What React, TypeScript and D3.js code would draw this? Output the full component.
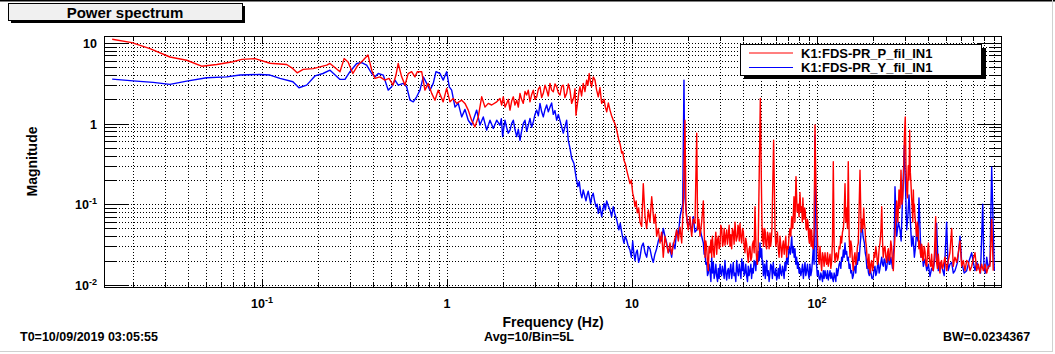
import React, { useEffect } from 'react';
import * as d3 from 'd3';

// [frequency Hz, magnitude]
// K1:FDS-PR_P_fil_IN1 (red)
const pitchSpectrum: [number, number][] = [
    [0.0155, 11.1], [0.0198, 10.1], [0.0248, 8.5], [0.0318, 6.7], [0.0392, 6.1], [0.0472, 5.15], [0.0569, 5.4], [0.0697, 5.85], [0.0777, 6.25], [0.0917, 6.4],
    [0.1105, 5.6], [0.136, 5.4], [0.147, 4.8], [0.155, 4.26], [0.167, 4.7], [0.189, 4.8], [0.224, 5.3], [0.233, 5.57], [0.264, 4.4], [0.278, 6.4],
    [0.292, 5.8], [0.310, 4.18], [0.330, 5.3], [0.352, 6.1], [0.374, 7.1], [0.392, 4.6], [0.408, 3.63], [0.434, 3.8], [0.462, 3.46], [0.486, 3.63],
    [0.511, 3.0], [0.530, 4.0], [0.545, 5.57], [0.569, 3.8], [0.593, 3.0], [0.617, 4.18], [0.644, 4.4], [0.671, 3.8], [0.691, 4.4], [0.730, 4.4],
    [0.760, 2.6], [0.792, 3.15], [0.827, 2.37], [0.861, 1.95], [0.897, 2.6], [0.954, 1.86], [0.996, 2.73], [1.038, 1.86], [1.080, 2.05], [1.128, 1.78],
    [1.201, 1.95], [1.251, 1.78], [1.303, 1.47], [1.359, 1.1], [1.417, 0.91], [1.476, 1.21], [1.540, 2.15], [1.605, 1.6], [1.672, 1.78], [1.744, 1.7],
    [1.857, 1.86], [1.934, 2.05], [1.975, 1.7], [2.015, 2.15], [2.06, 1.6], [2.102, 1.78], [2.146, 2.0], [2.191, 1.47], [2.237, 1.9], [2.283, 2.15],
    [2.33, 1.7], [2.382, 1.95], [2.43, 1.6], [2.481, 2.37], [2.53, 2.0], [2.585, 1.78], [2.64, 2.5], [2.697, 2.26], [2.75, 2.6], [2.81, 1.86],
    [2.87, 2.3], [2.928, 2.6], [2.99, 2.0], [3.054, 2.15], [3.12, 2.7], [3.182, 2.86], [3.25, 2.1], [3.316, 2.37], [3.39, 3.0], [3.458, 2.6],
    [3.53, 2.2], [3.604, 3.15], [3.68, 2.6], [3.755, 2.48], [3.835, 3.1], [3.917, 2.86], [4.0, 2.4], [4.081, 2.26], [4.17, 2.9], [4.252, 3.0],
    [4.34, 2.1], [4.435, 2.37], [4.53, 3.1], [4.622, 2.6], [4.72, 1.78], [4.857, 2.15], [4.92, 2.7], [4.98, 1.27], [5.10, 1.95], [5.17, 2.5],
    [5.234, 2.86], [5.34, 2.2], [5.45, 3.15], [5.57, 2.5], [5.687, 3.46], [5.78, 3.0], [5.87, 4.18], [5.96, 3.3], [6.05, 2.86], [6.18, 3.8],
    [6.31, 3.46], [6.44, 2.6], [6.574, 2.15], [6.71, 2.8], [6.857, 1.78], [7.06, 2.0], [7.18, 1.6], [7.30, 1.4], [7.45, 1.8], [7.605, 1.47],
    [7.76, 1.25], [7.92, 1.1], [8.09, 1.0], [8.27, 0.83], [8.49, 0.62], [8.64, 0.55], [8.795, 0.43], [8.92, 0.45], [9.05, 0.35], [9.2, 0.32],
    [9.36, 0.265], [9.55, 0.22], [9.754, 0.18], [9.92, 0.2], [10.09, 0.137], [10.23, 0.12], [10.38, 0.093], [10.53, 0.11], [10.68, 0.078], [10.86, 0.09],
    [11.05, 0.06], [11.28, 0.053], [11.51, 0.18], [11.76, 0.07], [12.0, 0.05], [12.25, 0.085], [12.5, 0.06], [12.78, 0.124], [13.15, 0.058], [13.37, 0.075],
    [13.59, 0.04], [13.88, 0.05], [14.17, 0.033], [14.46, 0.045], [14.76, 0.022], [15.08, 0.04], [15.4, 0.031], [15.72, 0.025], [16.05, 0.033], [16.38, 0.024],
    [16.72, 0.031], [17.08, 0.038], [17.44, 0.048], [17.8, 0.035], [18.18, 0.052], [18.57, 0.033], [18.94, 0.1], [19.34, 1.1], [19.58, 0.085], [19.86, 0.06],
    [20.15, 0.048], [20.58, 0.07], [21.02, 0.04], [21.46, 0.065], [21.91, 0.058], [22.38, 0.76], [22.65, 0.048], [22.98, 0.065], [23.32, 0.04], [23.8, 0.06],
    [24.3, 0.11], [24.81, 0.022], [25.05, 0.035], [25.3, 0.03], [25.57, 0.02], [25.85, 0.015], [26.1, 0.03], [26.4, 0.025], [26.7, 0.036], [26.97, 0.022],
    [27.2, 0.04], [27.5, 0.028], [27.8, 0.022], [28.1, 0.033], [28.4, 0.045], [28.7, 0.024], [29.0, 0.036], [29.28, 0.04], [29.6, 0.028], [29.9, 0.03],
    [30.2, 0.055], [30.54, 0.05], [30.9, 0.03], [31.2, 0.035], [31.5, 0.05], [31.82, 0.031], [32.15, 0.04], [32.5, 0.048], [32.8, 0.032], [33.16, 0.04],
    [33.5, 0.055], [33.86, 0.03], [34.2, 0.042], [34.58, 0.028], [34.9, 0.05], [35.3, 0.045], [35.65, 0.032], [36.04, 0.06], [36.6, 0.035], [37.1, 0.04],
    [37.4, 0.055], [37.7, 0.05], [38.0, 0.035], [38.35, 0.058], [38.75, 0.04], [39.17, 0.033], [39.6, 0.05], [40.0, 0.045], [40.4, 0.03], [40.81, 0.025],
    [41.2, 0.038], [41.66, 0.032], [42.1, 0.024], [42.52, 0.019], [43.0, 0.028], [43.43, 0.03], [43.9, 0.02], [44.35, 0.022], [44.8, 0.032], [45.3, 0.035],
    [45.75, 0.025], [46.22, 0.093], [46.9, 0.025], [47.56, 0.018], [48.1, 0.03], [48.7, 0.22], [49.4, 2.05], [50.23, 0.1], [50.6, 0.035], [50.95, 0.05],
    [51.3, 0.03], [51.7, 0.033], [52.1, 0.05], [52.55, 0.045], [53.0, 0.03], [53.45, 0.028], [54.0, 0.045], [54.55, 0.04], [55.1, 0.028], [55.7, 0.044],
    [56.15, 0.03], [56.6, 0.035], [57.1, 0.05], [57.6, 0.15], [58.3, 0.62], [59.29, 0.048], [59.9, 0.03], [60.5, 0.035], [61.1, 0.045], [61.75, 0.028],
    [62.4, 0.022], [63.1, 0.04], [63.8, 0.03], [64.44, 0.022], [65.1, 0.03], [65.8, 0.035], [66.5, 0.024], [67.14, 0.031], [67.8, 0.04], [68.5, 0.022],
    [69.2, 0.03], [69.9, 0.028], [70.6, 0.04], [71.4, 0.05], [72.2, 0.04], [73.0, 0.07], [74.0, 0.05], [75.1, 0.124], [76.0, 0.06], [77.0, 0.22],
    [78.1, 0.08], [79.2, 0.1], [80.0, 0.07], [80.9, 0.14], [81.8, 0.08], [82.7, 0.093], [83.3, 0.06], [83.9, 0.12], [84.5, 0.07], [85.05, 0.065],
    [85.8, 0.09], [86.5, 0.08], [87.2, 0.05], [87.95, 0.048], [88.7, 0.065], [89.4, 0.06], [90.1, 0.04], [90.9, 0.033], [91.5, 0.05], [92.2, 0.045],
    [92.9, 0.03], [93.6, 0.048], [94.5, 0.03], [95.4, 0.028], [96.5, 0.045], [97.54, 0.96], [98.76, 0.165], [100.2, 0.05], [100.9, 0.03], [101.6, 0.022],
    [102.7, 0.018], [103.8, 0.03], [104.9, 0.02], [106, 0.015], [107.1, 0.025], [108.2, 0.022], [109.3, 0.017], [110.5, 0.025], [111.6, 0.02], [112.8, 0.018],
    [114, 0.025], [115.1, 0.017], [116.3, 0.02], [117.6, 0.024], [118.8, 0.016], [120.1, 0.02], [121.3, 0.035], [122.5, 0.336], [123.8, 0.03], [125.1, 0.019],
    [126.4, 0.024], [127.7, 0.025], [129, 0.02], [130.3, 0.022], [131.7, 0.03], [133.1, 0.028], [134.5, 0.04], [135.9, 0.033], [137.3, 0.045], [138.8, 0.05],
    [140.2, 0.07], [141.7, 0.18], [143.2, 0.06], [144.7, 0.09], [146.1, 0.05], [147.6, 0.336], [149.2, 0.04], [150.8, 0.022], [152.3, 0.035], [153.9, 0.03],
    [155.4, 0.02], [157, 0.015], [158.7, 0.022], [160.4, 0.025], [162.1, 0.018], [163.9, 0.022], [165.5, 0.03], [167.2, 0.033], [170.8, 0.265], [173.3, 0.045],
    [175.8, 0.065], [177.3, 0.05], [178.8, 0.09], [180.3, 0.06], [181.8, 0.05], [183.3, 0.035], [184.9, 0.03], [186.4, 0.022], [188, 0.019], [189.3, 0.016],
    [190.7, 0.024], [192, 0.018], [193.4, 0.014], [195.4, 0.018], [197.4, 0.02], [199.4, 0.015], [201.5, 0.017], [203.6, 0.025], [205.7, 0.022], [207.8, 0.03],
    [210, 0.025], [212.2, 0.018], [214.5, 0.02], [216.7, 0.028], [219, 0.033], [221.4, 0.045], [223.8, 0.093], [226, 0.035], [228, 0.022], [230.5, 0.028],
    [233, 0.03], [235.5, 0.022], [238, 0.019], [240.5, 0.025], [243, 0.028], [245.5, 0.02], [248, 0.022], [250.5, 0.035], [253, 0.03], [255.7, 0.02],
    [258.5, 0.015], [261.2, 0.025], [264, 0.04], [266.8, 0.07], [269.7, 0.11], [273.6, 0.06], [277.5, 0.15], [281, 0.09], [284.5, 0.265], [287.5, 0.1],
    [290.6, 0.12], [293.6, 0.2], [296.7, 0.69], [300, 1.21], [302.7, 0.3], [305.4, 0.15], [308.4, 0.12], [311.5, 0.3], [314.2, 0.2], [317, 0.83],
    [319.5, 0.25], [322, 0.18], [324.7, 0.12], [327.5, 0.085], [329.6, 0.06], [331.8, 0.15], [333.9, 0.08], [336, 0.1], [338.5, 0.07], [341, 0.06],
    [343.5, 0.045], [346, 0.04], [349, 0.06], [352, 0.05], [355.2, 0.028], [358.4, 0.035], [361.7, 0.025], [365, 0.022], [367.5, 0.032], [370, 0.03],
    [372.7, 0.02], [375.5, 0.02], [379.6, 0.03], [383.7, 0.026], [387.8, 0.018], [392, 0.017], [396, 0.025], [400, 0.033], [404, 0.022], [408, 0.019],
    [412.2, 0.017], [416.4, 0.024], [420.7, 0.016], [425, 0.015], [431.5, 0.025], [438, 0.07], [440.5, 0.03], [443, 0.019], [447.7, 0.016], [452.4, 0.024],
    [457.2, 0.018], [462, 0.014], [466.7, 0.019], [471.4, 0.02], [476.2, 0.016], [481, 0.017], [491.4, 0.022], [502, 0.015], [512.4, 0.02], [523, 0.025],
    [534.5, 0.05], [545, 0.017], [556.7, 0.022], [568.7, 0.019], [580.7, 0.025], [592.9, 0.035], [605.5, 0.017], [618.1, 0.02], [631, 0.015], [644.1, 0.02],
    [657.5, 0.019], [671.5, 0.015], [685.7, 0.017], [700, 0.021], [714.6, 0.025], [729.8, 0.015], [745, 0.018], [760.5, 0.014], [776.3, 0.018], [792.4, 0.015],
    [809.3, 0.018], [826.5, 0.014], [843.7, 0.017], [861.2, 0.017], [879.5, 0.065], [897, 0.015],
];

// K1:FDS-PR_Y_fil_IN1 (blue)
const yawSpectrum: [number, number][] = [
    [0.0155, 3.56], [0.0201, 3.39], [0.0258, 3.24], [0.0318, 3.06], [0.0392, 3.36], [0.0502, 3.7], [0.0644, 3.8], [0.0761, 4.0], [0.0975, 4.07], [0.1105, 4.0],
    [0.1251, 3.63], [0.147, 3.3], [0.1585, 2.78], [0.1744, 3.0], [0.1934, 3.9], [0.2136, 4.18], [0.2332, 4.6], [0.2641, 3.53], [0.281, 3.53], [0.299, 4.4],
    [0.325, 5.57], [0.3458, 5.7], [0.368, 5.3], [0.3917, 4.18], [0.4081, 3.8], [0.4252, 4.18], [0.4525, 4.0], [0.481, 2.6], [0.5023, 2.86], [0.5234, 3.46],
    [0.545, 3.0], [0.58, 3.15], [0.6055, 2.86], [0.631, 1.95], [0.6575, 1.86], [0.6857, 2.15], [0.7146, 2.6], [0.7446, 3.8], [0.777, 3.15], [0.8093, 2.6],
    [0.843, 3.15], [0.872, 4.4], [0.9167, 4.18], [0.954, 3.46], [0.996, 4.4], [1.029, 2.86], [1.06, 2.6], [1.105, 1.6], [1.151, 1.78], [1.201, 1.21],
    [1.251, 1.5], [1.303, 1.1], [1.359, 0.96], [1.447, 1.47], [1.508, 0.96], [1.571, 1.21], [1.639, 0.83], [1.708, 1.1], [1.78, 0.87], [1.857, 1.1],
    [1.934, 0.95], [1.967, 1.15], [2.0, 0.69], [2.03, 0.9], [2.058, 1.1], [2.1, 0.9], [2.145, 0.76], [2.191, 0.83], [2.237, 1.0], [2.283, 1.1],
    [2.33, 0.85], [2.382, 0.69], [2.43, 0.85], [2.481, 0.62], [2.53, 0.8], [2.585, 1.0], [2.64, 1.1], [2.697, 0.8], [2.75, 0.95], [2.81, 1.16],
    [2.87, 0.9], [2.928, 1.05], [2.99, 1.3], [3.054, 1.47], [3.12, 1.25], [3.182, 1.78], [3.25, 1.4], [3.316, 1.21], [3.39, 1.5], [3.458, 1.7],
    [3.53, 1.4], [3.604, 1.6], [3.68, 1.8], [3.755, 1.3], [3.835, 1.45], [3.917, 1.1], [3.998, 1.3], [4.168, 0.91], [4.252, 0.76], [4.435, 1.1],
    [4.525, 0.62], [4.62, 0.5], [4.72, 0.37], [4.857, 0.32], [4.98, 0.22], [5.10, 0.165], [5.19, 0.19], [5.28, 0.137], [5.36, 0.12], [5.45, 0.15],
    [5.64, 0.11], [5.72, 0.13], [5.80, 0.145], [5.98, 0.102], [6.07, 0.125], [6.17, 0.137], [6.28, 0.11], [6.39, 0.093], [6.48, 0.1], [6.575, 0.077],
    [6.71, 0.095], [6.857, 0.07], [6.96, 0.085], [7.06, 0.102], [7.18, 0.085], [7.30, 0.11], [7.45, 0.095], [7.605, 0.085], [7.76, 0.07], [7.92, 0.093],
    [8.09, 0.075], [8.27, 0.064], [8.49, 0.048], [8.64, 0.058], [8.795, 0.045], [8.92, 0.038], [9.05, 0.033], [9.2, 0.04], [9.36, 0.036], [9.55, 0.03],
    [9.754, 0.027], [9.92, 0.022], [10.09, 0.035], [10.23, 0.025], [10.38, 0.02], [10.53, 0.025], [10.68, 0.027], [10.86, 0.019], [11.05, 0.022], [11.28, 0.03],
    [11.51, 0.033], [11.76, 0.025], [12.01, 0.022], [12.25, 0.03], [12.51, 0.028], [12.78, 0.022], [13.03, 0.019], [13.3, 0.024], [13.59, 0.028], [13.88, 0.035],
    [14.17, 0.04], [14.46, 0.035], [14.76, 0.05], [15.08, 0.04], [15.4, 0.033], [15.72, 0.025], [16.05, 0.028], [16.38, 0.022], [16.72, 0.033], [17.08, 0.028],
    [17.44, 0.048], [17.8, 0.04], [18.18, 0.07], [18.8, 0.1], [19.1, 3.46], [19.34, 0.12], [19.75, 0.07], [20.15, 0.055], [20.58, 0.058], [21.0, 0.045],
    [21.45, 0.07], [21.9, 0.045], [22.38, 0.048], [22.85, 0.06], [23.32, 0.05], [23.8, 0.04], [24.3, 0.033], [24.55, 0.024], [24.8, 0.025], [25.07, 0.018],
    [25.34, 0.019], [25.6, 0.013], [25.85, 0.014], [26.13, 0.018], [26.41, 0.015], [26.7, 0.011], [26.97, 0.022], [27.25, 0.014], [27.52, 0.019], [27.8, 0.012],
    [28.1, 0.014], [28.4, 0.018], [28.7, 0.0127], [29.0, 0.011], [29.3, 0.016], [29.6, 0.012], [29.9, 0.018], [30.2, 0.014], [30.5, 0.013], [30.8, 0.017],
    [31.15, 0.015], [31.5, 0.012], [31.8, 0.02], [32.15, 0.014], [32.5, 0.0115], [32.85, 0.015], [33.2, 0.016], [33.5, 0.012], [33.86, 0.015], [34.2, 0.018],
    [34.6, 0.012], [34.95, 0.015], [35.28, 0.019], [35.6, 0.013], [36.0, 0.014], [36.4, 0.011], [36.81, 0.02], [37.2, 0.015], [37.6, 0.013], [38.0, 0.018],
    [38.35, 0.015], [38.8, 0.012], [39.2, 0.021], [39.6, 0.015], [39.98, 0.019], [40.4, 0.013], [40.8, 0.014], [41.2, 0.018], [41.68, 0.0127], [42.1, 0.011],
    [42.5, 0.017], [42.95, 0.013], [43.43, 0.015], [43.9, 0.018], [44.3, 0.012], [44.8, 0.016], [45.25, 0.014], [45.7, 0.02], [46.2, 0.019], [46.7, 0.015],
    [47.2, 0.022], [47.7, 0.018], [48.2, 0.026], [48.7, 0.02], [49.18, 0.033], [49.7, 0.022], [50.23, 0.028], [50.6, 0.018], [50.95, 0.02], [51.3, 0.013],
    [51.7, 0.015], [52.1, 0.018], [52.55, 0.012], [53.0, 0.016], [53.45, 0.02], [54.0, 0.013], [54.55, 0.015], [55.1, 0.011], [55.7, 0.014], [56.2, 0.018],
    [56.8, 0.017], [57.4, 0.012], [58.0, 0.019], [58.6, 0.014], [59.3, 0.013], [59.9, 0.016], [60.55, 0.0115], [61.2, 0.013], [61.8, 0.016], [62.4, 0.012],
    [63.1, 0.018], [63.7, 0.014], [64.4, 0.013], [65.1, 0.017], [65.75, 0.015], [66.4, 0.012], [67.1, 0.019], [67.8, 0.015], [68.57, 0.022], [69.6, 0.018],
    [70.7, 0.03], [71.8, 0.024], [73.0, 0.04], [73.7, 0.025], [74.5, 0.03], [75.3, 0.022], [76.05, 0.028], [76.8, 0.018], [77.6, 0.022], [78.4, 0.016],
    [79.2, 0.019], [80.0, 0.014], [80.9, 0.016], [81.8, 0.013], [82.7, 0.015], [83.5, 0.018], [84.4, 0.012], [85.2, 0.015], [86.12, 0.019], [87.0, 0.013],
    [87.9, 0.015], [88.8, 0.018], [89.7, 0.014], [90.6, 0.012], [91.6, 0.018], [92.6, 0.013], [93.6, 0.015], [94.5, 0.02], [95.4, 0.028], [96.5, 0.018],
    [97.54, 0.72], [99.2, 0.019], [100.4, 0.013], [101.6, 0.015], [102.7, 0.012], [103.8, 0.0115], [104.9, 0.014], [106, 0.0127], [107.1, 0.011], [108.2, 0.015],
    [109.3, 0.012], [110.5, 0.015], [111.6, 0.013], [112.8, 0.012], [114, 0.015], [115.1, 0.0115], [116.3, 0.013], [117.6, 0.015], [118.8, 0.012], [120.1, 0.014],
    [121.3, 0.012], [122.6, 0.011], [123.8, 0.014], [125.1, 0.0127], [126.4, 0.011], [127.7, 0.016], [129, 0.013], [130.3, 0.015], [131.7, 0.018], [133.1, 0.019],
    [134.5, 0.016], [135.9, 0.022], [137.3, 0.02], [138.8, 0.027], [140.2, 0.022], [141.7, 0.033], [143.1, 0.024], [144.6, 0.026], [146.1, 0.02], [147.6, 0.022],
    [149.2, 0.016], [150.8, 0.018], [152.4, 0.014], [154.0, 0.015], [155.6, 0.012], [157.2, 0.013], [158.8, 0.016], [160.5, 0.017], [162.1, 0.014], [163.8, 0.02],
    [165.5, 0.018], [167.2, 0.025], [169, 0.02], [170.8, 0.03], [172.6, 0.04], [174.4, 0.065], [177.4, 0.04], [180.4, 0.033], [182.3, 0.025], [184.2, 0.022],
    [186.1, 0.016], [188, 0.017], [189.9, 0.014], [191.8, 0.013], [193.8, 0.016], [195.8, 0.014], [198.2, 0.012], [200.7, 0.012], [203.2, 0.015], [205.8, 0.017],
    [207.9, 0.013], [210, 0.014], [212.2, 0.017], [214.5, 0.019], [216.7, 0.014], [219, 0.016], [221.4, 0.019], [223.8, 0.022], [226.1, 0.018], [228.5, 0.017],
    [230.8, 0.021], [233.2, 0.02], [235.6, 0.015], [238, 0.016], [240.5, 0.02], [243, 0.024], [245.5, 0.018], [248, 0.018], [250.7, 0.022], [253.4, 0.019],
    [256, 0.016], [258.6, 0.025], [261.3, 0.03], [264, 0.165], [269.7, 0.04], [275.3, 0.06], [281, 0.048], [285, 0.035], [289.2, 0.1], [296.7, 0.54],
    [305.4, 0.048], [309.7, 0.07], [314.2, 0.13], [325, 0.03], [330.4, 0.04], [336, 0.022], [341, 0.03], [346, 0.048], [351, 0.035], [355.8, 0.12],
    [365, 0.022], [370, 0.026], [375.5, 0.017], [383.7, 0.021], [392, 0.015], [400, 0.018], [408, 0.0127], [416.4, 0.016], [425, 0.015], [434, 0.022],
    [443, 0.058], [452.5, 0.015], [462, 0.019], [472, 0.017], [487, 0.013], [502, 0.06], [512, 0.015], [523, 0.018], [534.5, 0.019], [545.6, 0.014],
    [557, 0.015], [574.7, 0.019], [593, 0.04], [605.5, 0.019], [624.7, 0.014], [644.4, 0.015], [664.7, 0.02], [685.7, 0.025], [700, 0.019], [714.6, 0.015],
    [729.4, 0.019], [744.6, 0.017], [765.3, 0.014], [786.5, 0.1], [799, 0.017], [812.6, 0.014], [826.5, 0.022], [843.7, 0.016], [861.2, 0.019], [879.5, 0.29],
    [897, 0.048], [909, 0.015],
];

const legendNames = ['K1:FDS-PR_P_fil_IN1', 'K1:FDS-PR_Y_fil_IN1'];
const xMajorTicks = [0.1, 1, 10, 100];
const xTickLabels = [['10', '-1'], ['1', ''], ['10', ''], ['10', '2']];
const yMajorTicks = [0.01, 0.1, 1, 10];
const yTickLabels = [['10', '-2'], ['10', '-1'], ['1', ''], ['10', '']];

const W = 1055;
const H = 354;
const left = 104, right = 1002, top = 36, bottom = 287;
const font = '"Liberation Sans", Arial, Helvetica, sans-serif';

function minorTicks(lo: number, hi: number) {
    const out: number[] = [];
    for (let e = -3; e <= 3; e++) {
        for (let k = 2; k <= 9; k++) {
            const v = k * Math.pow(10, e);
            if (v > lo && v < hi) out.push(v);
        }
    }
    return out;
}

const App: React.FC = () => {
    useEffect(() => {
        document.body.style.margin = '0';
        document.body.style.background = '#fff';
    }, []);

    const x = d3.scaleLog().domain([0.014, 1000]).range([left, right]);
    const y = d3.scaleLog().domain([0.0094, 12.2]).range([bottom, top]);

    const line = d3.line<[number, number]>()
        .x(d => x(d[0]))
        .y(d => y(d[1]));

    const pPath = line(pitchSpectrum) || '';
    const yPath = line(yawSpectrum) || '';

    const xMinor = minorTicks(0.014, 1000);
    const yMinor = minorTicks(0.0094, 12.2);
    const xAll = [...xMajorTicks, ...xMinor];
    const yAll = [...yMajorTicks, ...yMinor];

    return (
        <svg width={W} height={H} style={{ display: 'block', fontFamily: font }}>
            <rect x={0} y={0} width={W} height={H} fill="#fff" />
            <rect x={0} y={0} width={W} height={1.5} fill="#000" />
            <line x1={1052.5} y1={0} x2={1052.5} y2={352} stroke="#d0d0d0" />
            <line x1={0} y1={351.5} x2={1053} y2={351.5} stroke="#d0d0d0" />

            {/* title box */}
            <rect x={11} y={6} width={234} height={17} fill="#000" />
            <rect x={8.5} y={3.5} width={234} height={17} fill="#f0f0f0" stroke="#000" />
            <text x={125} y={17.5} textAnchor="middle" fontSize={15} fontWeight="bold">Power spectrum</text>

            <defs>
                <clipPath id="plotClip">
                    <rect x={left} y={top} width={right - left} height={bottom - top} />
                </clipPath>
            </defs>

            {/* grid */}
            <g stroke="#000" strokeWidth={1} strokeDasharray="1,2">
                {xAll.map((v, i) => (
                    <line key={'gx' + i} x1={Math.round(x(v)) + 0.5} x2={Math.round(x(v)) + 0.5} y1={top} y2={bottom} />
                ))}
                {yAll.map((v, i) => (
                    <line key={'gy' + i} x1={left} x2={right} y1={Math.round(y(v)) + 0.5} y2={Math.round(y(v)) + 0.5} />
                ))}
            </g>

            {/* ticks */}
            <g stroke="#000" strokeWidth={1}>
                {xMajorTicks.map((v, i) => {
                    const px = Math.round(x(v)) + 0.5;
                    return (
                        <g key={'xt' + i}>
                            <line x1={px} x2={px} y1={bottom} y2={bottom - 8} />
                            <line x1={px} x2={px} y1={top} y2={top + 8} />
                        </g>
                    );
                })}
                {xMinor.map((v, i) => {
                    const px = Math.round(x(v)) + 0.5;
                    return (
                        <g key={'xm' + i}>
                            <line x1={px} x2={px} y1={bottom} y2={bottom - 5} />
                            <line x1={px} x2={px} y1={top} y2={top + 5} />
                        </g>
                    );
                })}
                {yMajorTicks.map((v, i) => {
                    const py = Math.round(y(v)) + 0.5;
                    return (
                        <g key={'yt' + i}>
                            <line x1={left} x2={left + 24} y1={py} y2={py} />
                            <line x1={right} x2={right - 24} y1={py} y2={py} />
                        </g>
                    );
                })}
                {yMinor.map((v, i) => {
                    const py = Math.round(y(v)) + 0.5;
                    return (
                        <g key={'ym' + i}>
                            <line x1={left} x2={left + 12} y1={py} y2={py} />
                            <line x1={right} x2={right - 12} y1={py} y2={py} />
                        </g>
                    );
                })}
            </g>

            {/* traces */}
            <g clipPath="url(#plotClip)" fill="none" strokeWidth={1.4} strokeLinejoin="round">
                <path d={yPath} stroke="#0000ff" />
                <path d={pPath} stroke="#ff0000" />
            </g>

            <rect x={left + 0.5} y={top + 0.5} width={right - left - 1} height={bottom - top} fill="none" stroke="#000" strokeWidth={1} />

            {/* tick labels */}
            <g fontWeight="bold" fill="#000">
                {xMajorTicks.map((v, i) => (
                    <text key={'xl' + i} x={x(v)} y={308} textAnchor="middle" fontSize={12.5}>
                        {xTickLabels[i][0]}
                        {xTickLabels[i][1] && <tspan dy={-5} fontSize={9}>{xTickLabels[i][1]}</tspan>}
                    </text>
                ))}
                {yMajorTicks.map((v, i) => (
                    <text key={'yl' + i} x={97} y={y(v) + 5} textAnchor="end" fontSize={12.5}>
                        {yTickLabels[i][0]}
                        {yTickLabels[i][1] && <tspan dy={-5} fontSize={9}>{yTickLabels[i][1]}</tspan>}
                    </text>
                ))}
            </g>

            {/* axis titles */}
            <text x={(left + right) / 2} y={327} textAnchor="middle" fontSize={14} fontWeight="bold">Frequency (Hz)</text>
            <text transform={`translate(37,${(top + bottom) / 2}) rotate(-90)`} textAnchor="middle" fontSize={14} fontWeight="bold">Magnitude</text>

            {/* legend */}
            <rect x={744} y={48} width={242} height={31} fill="#000" />
            <rect x={740.5} y={44.5} width={241} height={31} fill="#fff" stroke="#000" />
            <line x1={749} x2={793} y1={53} y2={53} stroke="#ff0000" strokeWidth={1.2} />
            <line x1={749} x2={793} y1={67.5} y2={67.5} stroke="#0000ff" strokeWidth={1.2} />
            <text x={801} y={57.5} fontSize={13} fontWeight="bold">{legendNames[0]}</text>
            <text x={801} y={72} fontSize={13} fontWeight="bold">{legendNames[1]}</text>

            {/* footer */}
            <text x={20} y={341} fontSize={12.5} fontWeight="bold">T0=10/09/2019 03:05:55</text>
            <text x={529} y={341} textAnchor="middle" fontSize={12.5} fontWeight="bold">Avg=10/Bin=5L</text>
            <text x={943} y={341} fontSize={12.5} fontWeight="bold">BW=0.0234367</text>
        </svg>
    );
};

export default App;
